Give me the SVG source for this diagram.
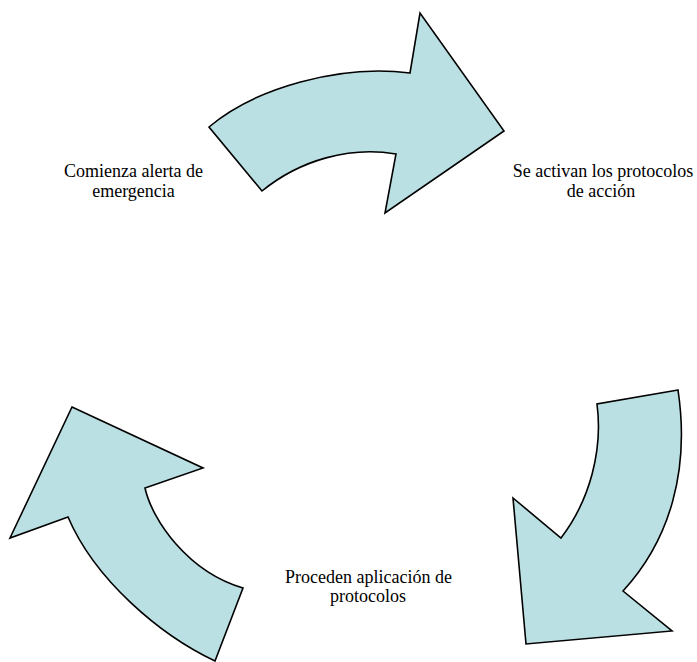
<svg xmlns="http://www.w3.org/2000/svg" width="697" height="662" viewBox="0 0 697 662">
<style>
.arrow{fill:#bbe0e3;stroke:#000;stroke-width:1.6;stroke-linejoin:miter}
.lbl{font-family:"Liberation Serif","Times New Roman",serif;font-size:18px;fill:#000;text-anchor:middle}
</style>
<rect width="697" height="662" fill="#fff"/>
<g id="connectors">
<path id="arrow-top" class="arrow" d="M209,127 C255,88 340,64 410,73 L420,13 L504,131 L385,213 L396,154 C350,146 300,160 262,191 Z"/>
<path id="arrow-right" class="arrow" d="M678,390 L597,404 C603,450 590,500 561,538 L513,498 L526,644 L672,631 L623,591 C670,540 690,470 678,390 Z"/>
<path id="arrow-left" class="arrow" d="M72,407 L203,468 L145,488 C152,520 188,572 243,588 L215,661 C160,635 95,580 68,517 L10,538 Z"/>
</g>
<g id="node-1">
<text class="lbl" x="133.5" y="177">Comienza alerta de</text>
<text class="lbl" x="133.5" y="197">emergencia</text>
</g>
<g id="node-2">
<text class="lbl" x="603" y="177">Se activan los protocolos</text>
<text class="lbl" x="601" y="197">de acción</text>
</g>
<g id="node-3">
<text class="lbl" x="368.5" y="583">Proceden aplicación de</text>
<text class="lbl" x="368" y="602">protocolos</text>
</g>
</svg>
